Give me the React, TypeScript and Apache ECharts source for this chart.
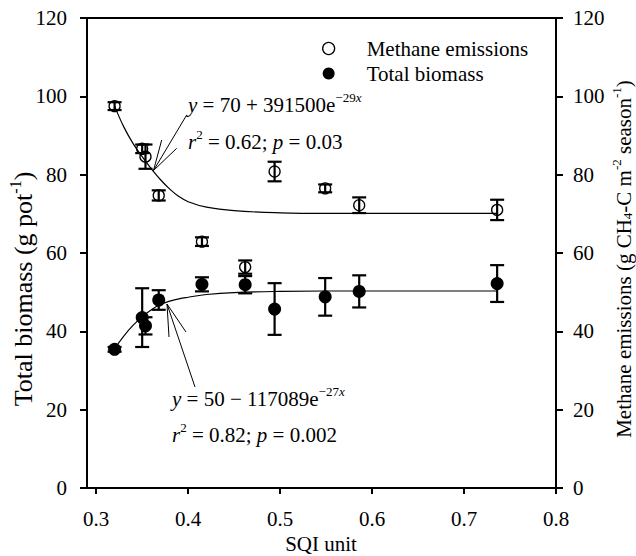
import React, { useEffect, useRef } from "react";
import * as echarts from "echarts";

// SQI values shared by both measured series
const SQI = [0.32, 0.35, 0.3536, 0.368, 0.415, 0.462, 0.494, 0.549, 0.586, 0.736];
// Methane emissions (g CH4-C m-2 season-1), mean and error
const METHANE = [97.5, 86.6, 84.6, 74.7, 62.9, 56.4, 80.8, 76.5, 72.2, 71.0];
const METHANE_ERR = [1.0, 1.1, 3.1, 1.3, 1.1, 1.7, 2.5, 1.0, 2.0, 2.6];
// Total biomass (g pot-1), mean and error
const BIOMASS = [35.4, 43.5, 41.4, 48.0, 52.0, 51.9, 45.7, 48.8, 50.2, 52.2];
const BIOMASS_ERR = [0.6, 7.5, 2.2, 2.5, 1.8, 2.2, 6.6, 4.8, 4.1, 4.7];
// Fitted curves
const FIT_X = [0.32, 0.33, 0.34, 0.35, 0.36, 0.37, 0.38, 0.39, 0.4, 0.42, 0.45, 0.5, 0.55, 0.6, 0.65, 0.7, 0.736];
const METHANE_FIT = [97.5, 92.2, 88.0, 84.6, 81.5, 78.7, 76.3, 74.4, 73.1, 71.7, 70.8, 70.25, 70.1, 70.1, 70.1, 70.1, 70.1];
const BIOMASS_FIT = [35.6, 38.8, 41.5, 43.7, 45.5, 46.9, 47.7, 48.3, 48.7, 49.4, 49.9, 50.2, 50.3, 50.3, 50.3, 50.3, 50.3];
// Axis ticks
const X_TICKS = [0.3, 0.4, 0.5, 0.6, 0.7, 0.8];

const FONT = "'Liberation Serif', 'Times New Roman', serif";
const FS = 21;

function makeRich(fs: number) {
  const sup = Math.round(fs * 0.62);
  return {
    n: { fontFamily: FONT, fontSize: fs, lineHeight: fs + 3, color: "#000", verticalAlign: "bottom" },
    i: { fontFamily: FONT, fontSize: fs, lineHeight: fs + 3, color: "#000", fontStyle: "italic", verticalAlign: "bottom" },
    s: { fontFamily: FONT, fontSize: sup, lineHeight: sup + 1, color: "#000", verticalAlign: "top" },
    si: { fontFamily: FONT, fontSize: sup, lineHeight: sup + 1, color: "#000", fontStyle: "italic", verticalAlign: "top" },
    sub: { fontFamily: FONT, fontSize: sup, lineHeight: sup - 1, color: "#000", verticalAlign: "bottom" },
  };
}

function errorBars(xs: number[], ys: number[], es: number[]) {
  return xs.map((x, k) => [x, ys[k], es[k]]);
}

function renderErr(params: any, api: any) {
  const x = api.value(0);
  const y = api.value(1);
  const e = api.value(2);
  const top = api.coord([x, y + e]);
  const bot = api.coord([x, y - e]);
  const hw = 7;
  const st = { stroke: "#000", lineWidth: 2.2 };
  return {
    type: "group",
    children: [
      { type: "line", shape: { x1: top[0], y1: top[1], x2: bot[0], y2: bot[1] }, style: st },
      { type: "line", shape: { x1: top[0] - hw, y1: top[1], x2: top[0] + hw, y2: top[1] }, style: st },
      { type: "line", shape: { x1: bot[0] - hw, y1: bot[1], x2: bot[0] + hw, y2: bot[1] }, style: st },
    ],
  };
}

function arrow(tip: number[], end: number[], b1: number[], b2: number[]) {
  const st = { stroke: "#000", lineWidth: 1 };
  return [
    { type: "line", shape: { x1: tip[0], y1: tip[1], x2: end[0], y2: end[1] }, style: st },
    { type: "line", shape: { x1: tip[0], y1: tip[1], x2: b1[0], y2: b1[1] }, style: st },
    { type: "line", shape: { x1: tip[0], y1: tip[1], x2: b2[0], y2: b2[1] }, style: st },
  ];
}

function richText(x: number, y: number, text: string, fs: number, align: string, rotation = 0) {
  return {
    type: "text",
    x,
    y,
    rotation,
    style: {
      text,
      rich: makeRich(fs),
      align,
      verticalAlign: "middle",
      fontFamily: FONT,
      fontSize: fs,
      fill: "#000",
    },
  };
}

export default function App() {
  const ref = useRef<HTMLDivElement>(null);

  useEffect(() => {
    if (!ref.current) return;
    const chart = echarts.init(ref.current, null, { renderer: "svg" });
    const axisLine = { show: true, lineStyle: { color: "#000", width: 2 } };
    const axisTick = { show: true, inside: false, length: 7, lineStyle: { color: "#000", width: 2 } };
    const labelStyle = { color: "#000", fontFamily: FONT, fontSize: FS };

    const option: any = {
      animation: false,
      backgroundColor: "#fff",
      grid: {
        left: 87,
        right: 80,
        top: 18,
        bottom: 68,
        show: true,
        borderColor: "#000",
        borderWidth: 2,
        backgroundColor: "transparent",
        containLabel: false,
      },
      legend: {
        orient: "vertical",
        left: 317,
        top: 33,
        itemWidth: 12,
        itemHeight: 12,
        itemGap: 4,
        textStyle: { ...labelStyle, lineHeight: 21, padding: [0, 0, 0, 27] },
        data: [
          { name: "Methane emissions", icon: "circle", itemStyle: { color: "transparent", borderColor: "#000", borderWidth: 1.3 } },
          { name: "Total biomass", icon: "circle", itemStyle: { color: "#000" } },
        ],
      },
      xAxis: {
        type: "value",
        min: 0.29,
        max: 0.8,
        axisLine,
        axisTick: { ...axisTick, length: 6, customValues: X_TICKS },
        axisLabel: {
          ...labelStyle,
          margin: 20,
          customValues: X_TICKS,
          formatter: (v: number) => v.toFixed(1),
        },
        splitLine: { show: false },
      },
      yAxis: [
        {
          type: "value",
          min: 0,
          max: 120,
          interval: 20,
          position: "left",
          axisLine,
          axisTick,
          axisLabel: { ...labelStyle, margin: 20 },
          splitLine: { show: false },
        },
        {
          type: "value",
          min: 0,
          max: 120,
          interval: 20,
          position: "right",
          axisLine,
          axisTick,
          axisLabel: { ...labelStyle, margin: 17 },
          splitLine: { show: false },
        },
      ],
      series: [
        {
          name: "Methane fit",
          type: "line",
          yAxisIndex: 1,
          smooth: 0.4,
          showSymbol: false,
          symbol: "none",
          lineStyle: { color: "#000", width: 1.2 },
          data: FIT_X.map((x, k) => [x, METHANE_FIT[k]]),
          z: 1,
        },
        {
          name: "Biomass fit",
          type: "line",
          yAxisIndex: 0,
          smooth: 0.4,
          showSymbol: false,
          symbol: "none",
          lineStyle: { color: "#000", width: 1.2 },
          data: FIT_X.map((x, k) => [x, BIOMASS_FIT[k]]),
          z: 1,
        },
        {
          name: "Methane error",
          type: "custom",
          yAxisIndex: 1,
          renderItem: renderErr,
          encode: { x: 0, y: 1 },
          data: errorBars(SQI, METHANE, METHANE_ERR),
          z: 2,
        },
        {
          name: "Biomass error",
          type: "custom",
          yAxisIndex: 0,
          renderItem: renderErr,
          encode: { x: 0, y: 1 },
          data: errorBars(SQI, BIOMASS, BIOMASS_ERR),
          z: 2,
        },
        {
          name: "Methane emissions",
          type: "scatter",
          yAxisIndex: 1,
          symbol: "circle",
          symbolSize: 11,
          itemStyle: { color: "transparent", borderColor: "#000", borderWidth: 1.3, opacity: 1 },
          data: SQI.map((x, k) => [x, METHANE[k]]),
          z: 3,
        },
        {
          name: "Total biomass",
          type: "scatter",
          yAxisIndex: 0,
          symbol: "circle",
          symbolSize: 13,
          itemStyle: { color: "#000", opacity: 1 },
          data: SQI.map((x, k) => [x, BIOMASS[k]]),
          z: 3,
        },
      ],
      graphic: [
        richText(188, 103, "{i|y}{n| = 70 + 391500e}{s|−29}{si|x}", FS, "left"),
        richText(188, 140, "{i|r}{s|2}{n| = 0.62; }{i|p}{n| = 0.03}", FS, "left"),
        richText(172, 397, "{i|y}{n| = 50 − 117089e}{s|−27}{si|x}", FS, "left"),
        richText(172, 433, "{i|r}{s|2}{n| = 0.82; }{i|p}{n| = 0.002}", FS, "left"),
        ...arrow([153.5, 170.5], [186.7, 115], [161.7, 140], [176.7, 148.3]),
        ...arrow([167, 304], [195, 387], [169, 337], [186, 332]),
        {
          type: "text",
          x: 321,
          y: 544,
          style: { text: "SQI unit", align: "center", verticalAlign: "middle", fontFamily: FONT, fontSize: FS, fill: "#000" },
        },
        richText(22, 289, "{n|Total biomass (g pot}{s|-1}{n|)}", 26, "center", Math.PI / 2),
        richText(622, 259, "{n|Methane emissions (g CH}{sub|4}{n|-C m}{s|-2}{n| season}{s|-1}{n|)}", FS, "center", Math.PI / 2),
      ],
    };
    chart.setOption(option);
    return () => chart.dispose();
  }, []);

  return <div ref={ref} style={{ position: "absolute", left: 0, top: 0, width: 636, height: 556 }} />;
}
